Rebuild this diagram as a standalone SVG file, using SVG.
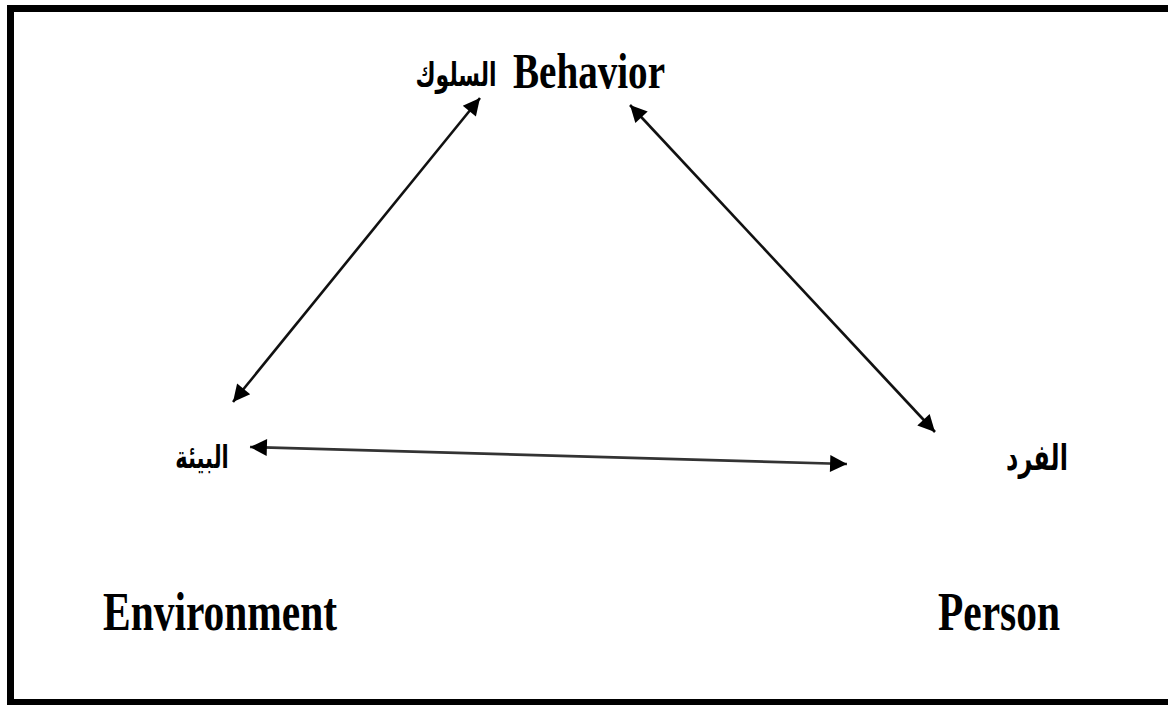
<svg xmlns="http://www.w3.org/2000/svg" width="1168" height="705" viewBox="0 0 1168 705">
<defs>
<marker id="ah" viewBox="0 0 10 10" refX="10" refY="5" markerWidth="7.5" markerHeight="6.5" markerUnits="strokeWidth" orient="auto-start-reverse">
<path d="M0,0 L10,5 L0,10 z" fill="#000"/>
</marker>
<style>
.lat{font-family:"Liberation Serif","Times New Roman",serif;font-weight:bold;fill:#000}
.ar{font-family:"DejaVu Sans","Noto Sans",sans-serif;font-weight:bold;fill:#000}
.con{stroke:#111;stroke-width:2.6;fill:none;marker-start:url(#ah);marker-end:url(#ah)}
</style>
</defs>
<rect x="0" y="0" width="1168" height="705" fill="#fff"/>
<path d="M10.5,705 V8.5 H1168 M10.5,702.5 H1168" stroke="#000" stroke-width="7" fill="none"/>
<g id="connectors">
<line class="con" x1="233" y1="402" x2="480" y2="98"/>
<line class="con" x1="630" y1="105" x2="935" y2="432"/>
<line class="con" x1="250" y1="447" x2="847" y2="464" style="stroke:#333"/>
</g>
<g id="behavior">
<text class="lat" x="513" y="88" font-size="50" textLength="152" lengthAdjust="spacingAndGlyphs">Behavior</text>
<text class="ar" x="456" y="86" font-size="22" text-anchor="middle" direction="rtl" transform="translate(0,-43) scale(1,1.5)" dy="0">السلوك</text>
</g>
<g id="environment">
<text class="ar" x="202" y="468" font-size="21" text-anchor="middle" direction="rtl" transform="translate(0,-234) scale(1,1.5)">البيئة</text>
<text class="lat" x="103" y="630" font-size="54" textLength="234" lengthAdjust="spacingAndGlyphs">Environment</text>
</g>
<g id="person">
<text class="ar" x="1037" y="470" font-size="24" text-anchor="middle" direction="rtl" transform="translate(0,-235) scale(1,1.5)">الفرد</text>
<text class="lat" x="938" y="630" font-size="54" textLength="122" lengthAdjust="spacingAndGlyphs">Person</text>
</g>
</svg>
